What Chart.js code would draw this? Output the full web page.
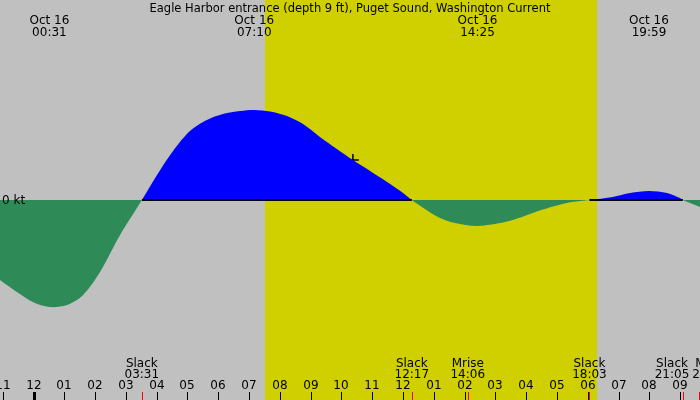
<!DOCTYPE html>
<html>
<head>
<meta charset="utf-8">
<script src="https://cdn.jsdelivr.net/npm/chart.js@4"></script>
<style>
  body { margin: 0; background: #c0c0c0; }
  canvas { display: block; }
</style>
</head>
<body>
<canvas id="tide" width="700" height="400"></canvas>
<script>
// current speed in knots, hours since midnight Oct 16
const hours = [-1.09, -0.54, -0.02, 0.52, 1.09, 1.61, 2.16, 2.81, 3.52, 4.01, 4.53, 5.08, 5.63, 6.15, 6.71, 7.17,
  7.68, 8.23, 8.75, 9.30, 9.85, 10.37, 10.93, 11.48, 12.00, 12.28, 12.61, 13.13, 13.68, 14.42, 15.31, 15.86,
  16.38, 16.93, 17.48, 18.05, 18.81, 19.37, 19.98, 20.57, 20.99, 21.08, 21.64];
const speeds = [-0.80, -0.92, -1.02, -1.07, -1.05, -0.95, -0.72, -0.35, 0, 0.25, 0.49, 0.69, 0.80, 0.86, 0.89, 0.90,
  0.885, 0.84, 0.76, 0.63, 0.51, 0.40, 0.29, 0.18, 0.07, 0, -0.07, -0.17, -0.23, -0.26, -0.22, -0.17,
  -0.11, -0.06, -0.02, 0, 0.03, 0.07, 0.09, 0.07, 0.02, 0, -0.07];

const peakDates = ['Oct 16', 'Oct 16', 'Oct 16', 'Oct 16'];
const peakTimes = ['00:31', '07:10', '14:25', '19:59'];

const eventNames = ['Slack', 'Slack', 'Mrise', 'Slack', 'Slack', 'Mset'];
const eventTimes = ['03:31', '12:17', '14:06', '18:03', '21:05', '21:36'];
const slackTimes = ['03:31', '12:17', '18:03', '21:05'];

const tickHours = [-1, 0, 1, 2, 3, 4, 5, 6, 7, 8, 9, 10, 11, 12, 13, 14, 15, 16, 17, 18, 19, 20, 21];
const tickLabels = ['11', '12', '01', '02', '03', '04', '05', '06', '07', '08', '09', '10', '11', '12',
  '01', '02', '03', '04', '05', '06', '07', '08', '09'];

const sunrise = '07:31';
const sunset = '18:18';
const nowMark = { h: 10.37, v: 0.40 };

const title = 'Eagle Harbor entrance (depth 9 ft), Puget Sound, Washington Current';

const toH = s => { const p = s.split(':'); return +p[0] + (+p[1]) / 60; };
const FONT = '12px "DejaVu Sans"';

const tidePlugin = {
  id: 'tide',
  beforeDraw(chart) {
    const { ctx, scales: { x } } = chart;
    ctx.save();
    ctx.fillStyle = '#c0c0c0';
    ctx.fillRect(0, 0, chart.width, chart.height);
    const x1 = x.getPixelForValue(toH(sunrise));
    const x2 = x.getPixelForValue(toH(sunset));
    ctx.fillStyle = '#d0d000';
    ctx.fillRect(x1, 0, x2 - x1, chart.height);
    ctx.restore();
  },
  afterDatasetsDraw(chart) {
    const { ctx, scales: { x, y } } = chart;
    ctx.save();
    // zero line under the flood parts
    const y0 = y.getPixelForValue(0);
    ctx.strokeStyle = '#000';
    ctx.lineWidth = 2;
    for (let i = 0; i + 1 < slackTimes.length; i += 2) {
      ctx.beginPath();
      ctx.moveTo(x.getPixelForValue(toH(slackTimes[i])), y0);
      ctx.lineTo(x.getPixelForValue(toH(slackTimes[i + 1])), y0);
      ctx.stroke();
    }
    ctx.font = FONT;
    ctx.fillStyle = '#000';
    ctx.textAlign = 'left';
    ctx.fillText('0 kt', 2, y0 + 4);

    ctx.textAlign = 'center';
    ctx.font = '11.5px "DejaVu Sans"';
    ctx.fillText(title, 350, 12);
    ctx.font = FONT;
    peakTimes.forEach((t, i) => {
      const px = x.getPixelForValue(toH(t));
      ctx.fillText(peakDates[i], px, 24);
      ctx.fillText(t, px, 36);
    });

    // hour ticks
    tickHours.forEach((h, i) => {
      const px = Math.round(x.getPixelForValue(h));
      ctx.fillStyle = '#000';
      ctx.fillText(tickLabels[i], px, 389);
      ctx.fillRect(h === 0 ? px - 1 : px, 392, h === 0 ? 3 : 1, 8);
    });

    // events: push overlapping labels apart
    const pos = eventTimes.map(t => x.getPixelForValue(toH(t)));
    const wid = eventNames.map((n, i) => Math.max(ctx.measureText(n).width, ctx.measureText(eventTimes[i]).width));
    const lab = pos.slice();
    for (let i = 0; i + 1 < lab.length; i++) {
      const need = wid[i] / 2 + wid[i + 1] / 2 + 3;
      const gap = lab[i + 1] - lab[i];
      if (gap < need) {
        lab[i] -= (need - gap) / 2;
        lab[i + 1] += (need - gap) / 2;
      }
    }
    eventTimes.forEach((t, i) => {
      ctx.fillStyle = '#000';
      ctx.fillText(eventNames[i], lab[i], 367);
      ctx.fillText(t, lab[i], 378);
      ctx.fillStyle = '#ff0000';
      ctx.fillRect(Math.round(pos[i]), 392, 1, 8);
    });
    ctx.restore();
  }
};

new Chart(document.getElementById('tide'), {
  type: 'line',
  data: {
    datasets: [
      {
        data: hours.map((h, i) => ({ x: h, y: speeds[i] })),
        borderWidth: 0,
        pointRadius: 0,
        tension: 0.3,
        fill: { target: { value: 0 }, above: '#0000ff', below: '#2e8b57' }
      },
      {
        data: [{ x: nowMark.h, y: nowMark.v }],
        showLine: false,
        pointStyle: 'cross',
        pointRadius: 6,
        borderColor: '#000',
        borderWidth: 1.5
      }
    ]
  },
  options: {
    responsive: false,
    animation: false,
    layout: { padding: 0, autoPadding: false },
    plugins: { legend: { display: false }, tooltip: { enabled: false } },
    scales: {
      x: { type: 'linear', display: false, min: -1.0877, max: 21.64 },
      y: { display: false, min: -2, max: 2 }
    }
  },
  plugins: [tidePlugin]
});
</script>
</body>
</html>
